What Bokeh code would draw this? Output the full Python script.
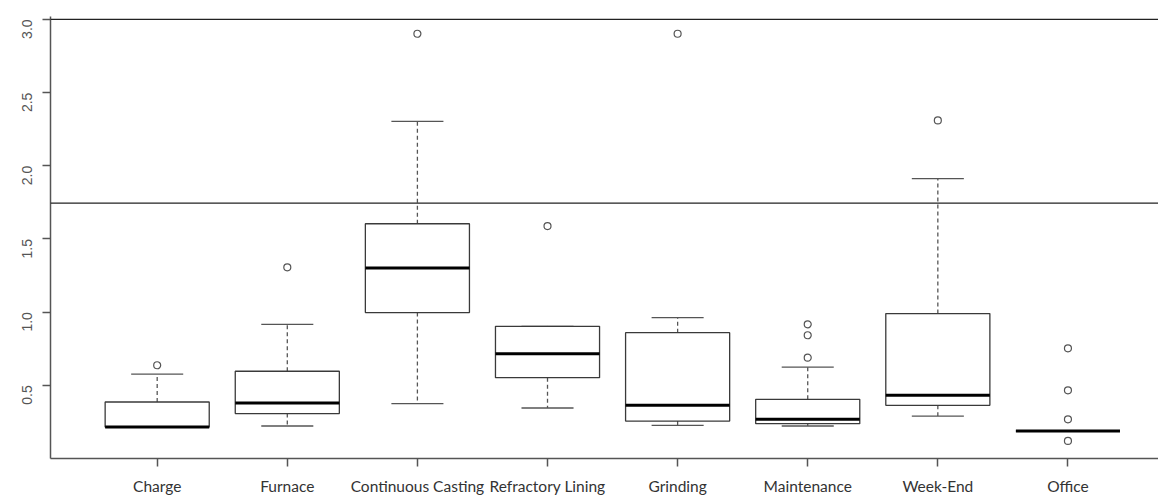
import math
from bokeh.plotting import figure
from bokeh.models import Range1d, Span, FixedTicker, ColumnDataSource, NumeralTickFormatter
from bokeh.embed import file_html
from bokeh.resources import INLINE

categories = ["Charge", "Furnace", "Continuous Casting", "Refractory Lining",
              "Grinding", "Maintenance", "Week-End", "Office"]
lower  = [0.215, 0.222, 0.375, 0.345, 0.227, 0.222, 0.290, 0.188]
q1     = [0.215, 0.307, 0.997, 0.552, 0.256, 0.238, 0.363, 0.188]
median = [0.215, 0.379, 1.301, 0.716, 0.363, 0.268, 0.432, 0.188]
q3     = [0.386, 0.596, 1.604, 0.903, 0.860, 0.404, 0.990, 0.188]
upper  = [0.577, 0.917, 2.303, 0.903, 0.962, 0.625, 1.912, 0.188]
outliers = {
    "Charge": [0.637],
    "Furnace": [1.306],
    "Continuous Casting": [2.902],
    "Refractory Lining": [1.588],
    "Grinding": [2.902],
    "Maintenance": [0.917, 0.842, 0.689],
    "Week-End": [2.310],
    "Office": [0.753, 0.466, 0.268, 0.120],
}
hlines = [3.0, 1.745]
y_ticks = [0.5, 1.0, 1.5, 2.0, 2.5, 3.0]

xs = list(range(1, len(categories) + 1))
src = ColumnDataSource(dict(
    x=xs, lower=lower, q1=q1, median=median, q3=q3, upper=upper,
    left=[x - 0.4 for x in xs], right=[x + 0.4 for x in xs],
    cl=[x - 0.2 for x in xs], cr=[x + 0.2 for x in xs],
))

p = figure(width=1158, height=497, output_backend="svg", toolbar_location=None,
           x_range=Range1d(0.18, 8.696), y_range=Range1d(0.0, 3.02),
           min_border_left=50, min_border_right=0, min_border_top=16,
           min_border_bottom=39)
p.outline_line_color = None
p.grid.visible = False
p.background_fill_color = "white"

for v in hlines:
    p.add_layout(Span(location=v, dimension="width", line_color="#222222",
                      line_width=1.2))

box_col = "#3a3a3a"
wcol = "#555555"
# whiskers
p.segment(x0="x", y0="q3", x1="x", y1="upper", source=src, line_color=wcol,
          line_width=1.3, line_dash="4 3")
p.segment(x0="x", y0="q1", x1="x", y1="lower", source=src, line_color=wcol,
          line_width=1.3, line_dash="4 3")
# caps
p.segment(x0="cl", y0="upper", x1="cr", y1="upper", source=src, line_color=wcol,
          line_width=1.3)
p.segment(x0="cl", y0="lower", x1="cr", y1="lower", source=src, line_color=wcol,
          line_width=1.3)
# boxes
p.quad(left="left", right="right", bottom="q1", top="q3", source=src,
       fill_color="white", line_color=box_col, line_width=1.3)
# medians
p.segment(x0="left", y0="median", x1="right", y1="median", source=src,
          line_color="black", line_width=3)
# outliers
ox, oy = [], []
for i, c in enumerate(categories):
    for v in outliers[c]:
        ox.append(i + 1)
        oy.append(v)
p.scatter(ox, oy, marker="circle", size=7, fill_color="white",
          line_color="#555555", line_width=1.2)

# axes styling
p.xaxis.ticker = FixedTicker(ticks=xs)
p.xaxis.major_label_overrides = {x: c for x, c in zip(xs, categories)}
p.xaxis.minor_tick_line_color = None
p.xaxis.major_tick_in = 0
p.xaxis.major_tick_out = 8
p.xaxis.major_label_standoff = 10
p.xaxis.major_label_text_font = "Lato"
p.xaxis.major_label_text_font_size = "15.5px"
p.xaxis.major_label_text_color = "#333333"
p.xaxis.axis_line_color = "#555555"
p.xaxis.axis_line_width = 1.5
p.xaxis.major_tick_line_color = "#555555"
p.xaxis.major_tick_line_width = 1.5

p.yaxis.ticker = FixedTicker(ticks=y_ticks)
p.yaxis.formatter = NumeralTickFormatter(format="0.0")
p.yaxis.minor_tick_line_color = None
p.yaxis.major_tick_in = 0
p.yaxis.major_tick_out = 8
p.yaxis.major_label_orientation = math.pi / 2
p.yaxis.major_label_standoff = 15
p.yaxis.major_label_text_font = "Liberation Sans"
p.yaxis.major_label_text_font_size = "14px"
p.yaxis.major_label_text_color = "#555555"
p.yaxis.axis_line_color = "#555555"
p.yaxis.axis_line_width = 1.5
p.yaxis.major_tick_line_color = "#555555"
p.yaxis.major_tick_line_width = 1.5

open("out.html", "w").write(file_html(p, INLINE))
